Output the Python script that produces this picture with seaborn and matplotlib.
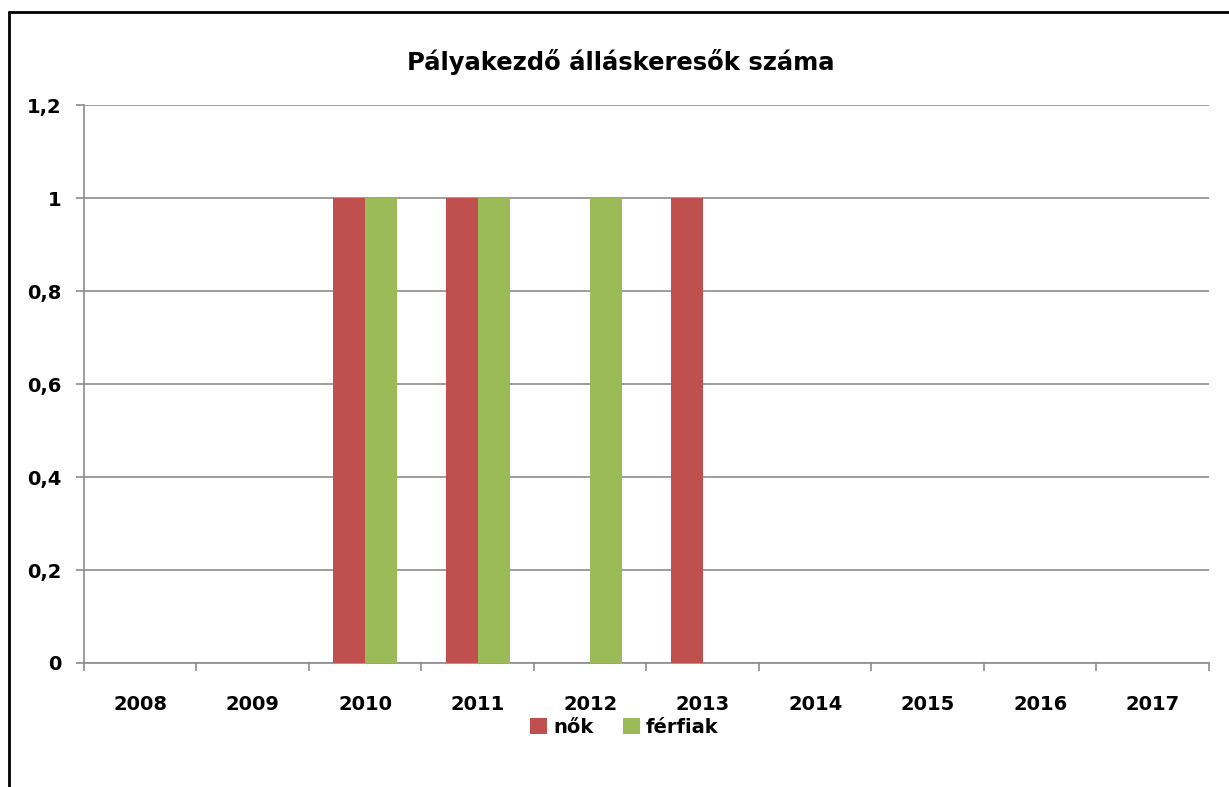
import matplotlib
matplotlib.use("Agg")
import matplotlib.pyplot as plt
from matplotlib.lines import Line2D
from matplotlib.patches import Patch
from matplotlib.ticker import FixedLocator, FuncFormatter
import seaborn as sns
import pandas as pd

YEARS = ["2008", "2009", "2010", "2011", "2012", "2013", "2014", "2015", "2016", "2017"]
NOK = [0, 0, 1, 1, 0, 1, 0, 0, 0, 0]
FERFIAK = [0, 0, 1, 1, 1, 0, 0, 0, 0, 0]
SERIES = ["nők", "férfiak"]
COLORS = ["#C0504D", "#9BBB59"]
TITLE = "Pályakezdő álláskeresők száma"


def build_frame():
    rows = []
    for name, values in zip(SERIES, [NOK, FERFIAK]):
        for year, v in zip(YEARS, values):
            rows.append({"year": year, "series": name, "value": v})
    return pd.DataFrame(rows)


def main():
    sns.set_style("white")
    plt.rcParams["font.family"] = ["DejaVu Sans"]
    plt.rcParams["text.color"] = "black"
    plt.rcParams["xtick.labelcolor"] = "black"
    plt.rcParams["ytick.labelcolor"] = "black"
    df = build_frame()

    fig = plt.figure(figsize=(12.29, 7.87), dpi=100)
    ax = fig.add_axes([0.0683, 0.1576, 0.9154, 0.7084])

    sns.barplot(data=df, x="year", y="value", hue="series", order=YEARS,
                hue_order=SERIES, palette=COLORS, width=0.57, gap=0,
                saturation=1, legend=False, ax=ax, zorder=3, linewidth=0)

    ax.set_xlim(-0.5, len(YEARS) - 0.5)
    ax.set_ylim(0, 1.2)
    ax.set_yticks([0, 0.2, 0.4, 0.6, 0.8, 1.0, 1.2])
    ax.yaxis.set_major_formatter(FuncFormatter(lambda v, p: ("%g" % round(v, 1)).replace(".", ",")))
    ax.grid(axis="y", color="#8c8c8c", linewidth=1.2, zorder=0)
    ax.set_axisbelow(True)

    ax.set_xlabel("")
    ax.set_ylabel("")
    for side in ["top", "right"]:
        ax.spines[side].set_visible(False)
    for side in ["left", "bottom"]:
        ax.spines[side].set_color("#8c8c8c")
        ax.spines[side].set_linewidth(1.2)

    ax.xaxis.set_minor_locator(FixedLocator([i - 0.5 for i in range(len(YEARS) + 1)]))
    ax.tick_params(axis="x", which="major", length=0, pad=23, labelsize=14)
    ax.tick_params(axis="x", which="minor", length=6, width=1.2, color="#8c8c8c", direction="out", bottom=True)
    ax.tick_params(axis="y", length=6, width=1.2, color="#8c8c8c", direction="out", left=True, pad=10, labelsize=14)
    for lbl in ax.get_xticklabels() + ax.get_yticklabels():
        lbl.set_fontweight("bold")

    fig.text(0.505, 0.921, TITLE, ha="center", va="center", fontsize=17.5, fontweight="bold")

    handles = [Patch(facecolor=c, edgecolor="none", label=s) for s, c in zip(SERIES, COLORS)]
    fig.legend(handles=handles, loc="center", bbox_to_anchor=(0.508, 0.076), ncol=2, frameon=False,
               handlelength=0.9, handleheight=0.9, handletextpad=0.3, columnspacing=1.5,
               prop={"size": 14, "weight": "bold"})

    # chart border: only left and top edges are visible in the picture
    fig.add_artist(Line2D([0.0073, 0.0073], [0, 0.985], color="black", linewidth=2, transform=fig.transFigure))
    fig.add_artist(Line2D([0.0073, 1.0], [0.985, 0.985], color="black", linewidth=2, transform=fig.transFigure))

    fig.savefig("out.png", dpi=100)


if __name__ == "__main__":
    main()
